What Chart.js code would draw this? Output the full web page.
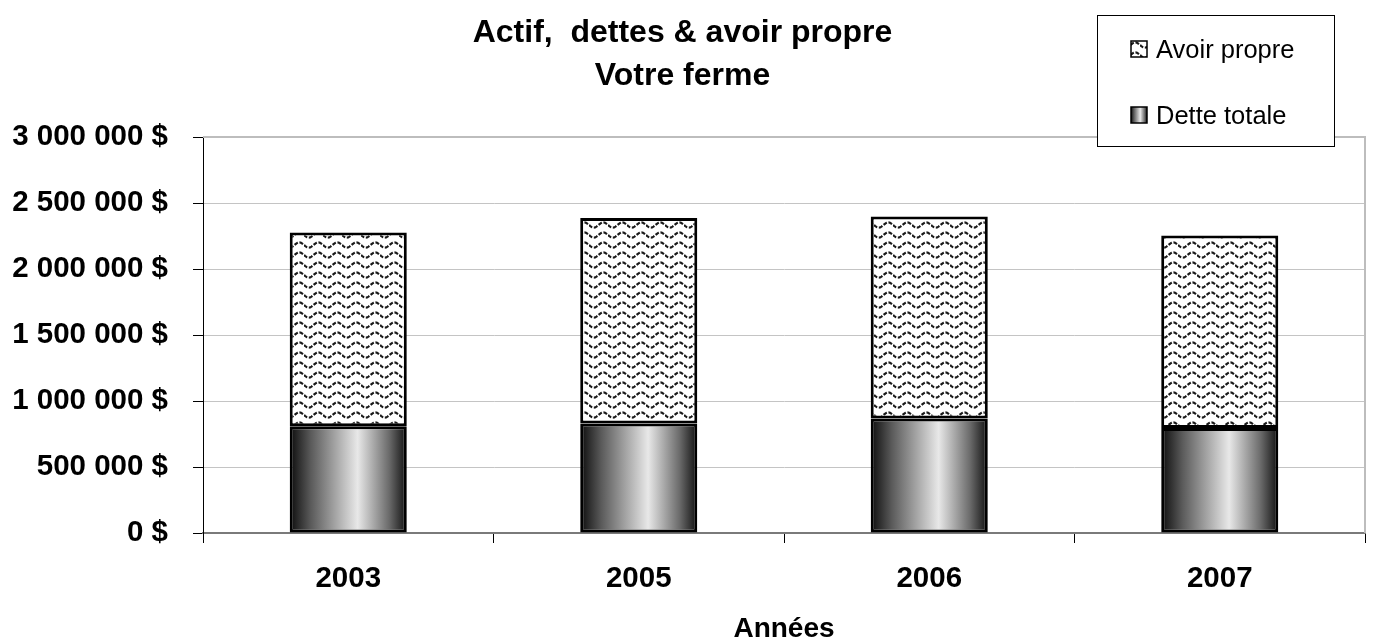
<!DOCTYPE html>
<html>
<head>
<meta charset="utf-8">
<script src="https://cdn.jsdelivr.net/npm/chart.js@4/dist/chart.umd.min.js"></script>
<style>
  body { margin: 0; background: #fff; }
  #wrap { width: 1374px; height: 641px; }
</style>
</head>
<body>
<div id="wrap"><canvas id="chart" width="1374" height="641"></canvas></div>
<script>
// data
const years = ["2003", "2005", "2006", "2007"];
const detteTotale = [809000, 830000, 867000, 795000];
const avoirPropre = [1468000, 1556000, 1531000, 1459000];
const yTicks = [0, 500000, 1000000, 1500000, 2000000, 2500000, 3000000];

const titleLines = ["Actif,  dettes & avoir propre", "Votre ferme"];
const xTitle = "Années";

const FONT = "'Liberation Sans', Arial, Helvetica, sans-serif";
Chart.defaults.font.family = FONT;
Chart.defaults.color = "#000";

const BAR_PCT = 0.403;

// wavy fill for "Avoir propre"
function wavePattern() {
  const W = 19, H = 10;
  const tile = document.createElement("canvas");
  tile.width = W;
  tile.height = H;
  const c = tile.getContext("2d");
  c.fillStyle = "#fff";
  c.fillRect(0, 0, W, H);
  c.strokeStyle = "#1a1a1a";
  c.lineWidth = 2.2;
  c.setLineDash([4, 1.6]);
  c.beginPath();
  for (let x = 0; x <= W; x += 0.5) {
    const y = 5 + 2.6 * Math.sin((x / W) * Math.PI * 2);
    if (x === 0) c.moveTo(x, y);
    else c.lineTo(x, y);
  }
  c.stroke();
  return c.createPattern(tile, "repeat");
}

function metalGradient(ctx, x0, x1) {
  const g = ctx.createLinearGradient(x0, 0, x1, 0);
  g.addColorStop(0, "#0c0c0c");
  g.addColorStop(0.18, "#5a5a5a");
  g.addColorStop(0.58, "#e8e8e8");
  g.addColorStop(0.85, "#6a6a6a");
  g.addColorStop(1, "#101010");
  return g;
}

const ctx = document.getElementById("chart").getContext("2d");
const pattern = wavePattern();

function detteFill(c) {
  const chart = c.chart;
  const area = chart.chartArea;
  if (!area || c.dataIndex == null) return "#999";
  const x = chart.scales.x.getPixelForValue(c.dataIndex);
  const w = ((area.right - area.left) / years.length) * BAR_PCT;
  return metalGradient(chart.ctx, x - w / 2, x + w / 2);
}

// plot frame (top + right) like the spreadsheet plot area
const frame = {
  id: "frame",
  beforeDatasetsDraw(chart) {
    const { ctx, chartArea: a } = chart;
    ctx.save();
    ctx.strokeStyle = "#bdbdbd";
    ctx.lineWidth = 2;
    ctx.beginPath();
    ctx.moveTo(a.left, a.top);
    ctx.lineTo(a.right, a.top);
    ctx.lineTo(a.right, a.bottom);
    ctx.stroke();
    ctx.restore();
  },
};

// boxed legend at top right, last dataset first
const boxLegend = {
  id: "boxLegend",
  afterDraw(chart) {
    const { ctx, width } = chart;
    const bx = width - 277, by = 15, bw = 237, bh = 131;
    ctx.save();
    ctx.fillStyle = "#fff";
    ctx.fillRect(bx, by, bw, bh);
    ctx.strokeStyle = "#000";
    ctx.lineWidth = 1;
    ctx.strokeRect(bx + 0.5, by + 0.5, bw, bh);
    const items = chart.data.datasets.slice().reverse();
    ctx.font = "25.5px " + FONT;
    ctx.textBaseline = "alphabetic";
    items.forEach((ds, i) => {
      const cy = by + 34 + i * 66;
      const sx = bx + 34, sy = cy - 8, s = 16;
      if (ds.label === "Dette totale") ctx.fillStyle = metalGradient(ctx, sx, sx + s);
      else ctx.fillStyle = pattern;
      ctx.fillRect(sx, sy, s, s);
      ctx.strokeStyle = "#000";
      ctx.lineWidth = 1.5;
      ctx.strokeRect(sx, sy, s, s);
      ctx.fillStyle = "#000";
      ctx.fillText(ds.label, sx + 25, cy + 9);
    });
    ctx.restore();
  },
};

new Chart(ctx, {
  type: "bar",
  data: {
    labels: years,
    datasets: [
      {
        label: "Dette totale",
        data: detteTotale,
        backgroundColor: detteFill,
        borderColor: "#000",
        borderWidth: 3,
        borderSkipped: false,
        barPercentage: BAR_PCT,
        categoryPercentage: 1,
      },
      {
        label: "Avoir propre",
        data: avoirPropre,
        backgroundColor: pattern,
        borderColor: "#000",
        borderWidth: 3,
        borderSkipped: false,
        barPercentage: BAR_PCT,
        categoryPercentage: 1,
      },
    ],
  },
  options: {
    responsive: false,
    animation: false,
    layout: { padding: { left: 0, right: 9, top: 0, bottom: 0 } },
    plugins: {
      legend: { display: false },
      tooltip: { enabled: false },
      title: {
        display: true,
        text: titleLines,
        color: "#000",
        font: { size: 32, weight: "bold", lineHeight: 1.344 },
        padding: { top: 12, bottom: 39 },
      },
    },
    scales: {
      x: {
        stacked: true,
        afterFit: (s) => { s.height = 108; },
        grid: { offset: true, drawOnChartArea: false, tickLength: 10, tickColor: "#000", tickWidth: 1 },
        border: { color: "#7a7a7a", width: 2 },
        ticks: { padding: 18, font: { size: 29.5, weight: "bold" }, color: "#000" },
        title: { display: true, text: xTitle, color: "#000", font: { size: 28, weight: "bold", lineHeight: 0.85 }, padding: { top: 10, bottom: 0 } },
      },
      y: {
        stacked: true,
        min: 0,
        max: 3000000,
        afterFit: (s) => { s.width = 203; },
        afterBuildTicks: (s) => { s.ticks = yTicks.map((v) => ({ value: v })); },
        grid: { color: "#c4c4c4", tickColor: "#000", tickLength: 10, lineWidth: 1 },
        border: { color: "#000", width: 1 },
        ticks: {
          padding: 25,
          font: { size: 29.5, weight: "bold" },
          color: "#000",
          callback: (v) => String(v).replace(/\B(?=(\d{3})+(?!\d))/g, " ") + " $",
        },
      },
    },
  },
  plugins: [frame, boxLegend],
});
</script>
</body>
</html>
